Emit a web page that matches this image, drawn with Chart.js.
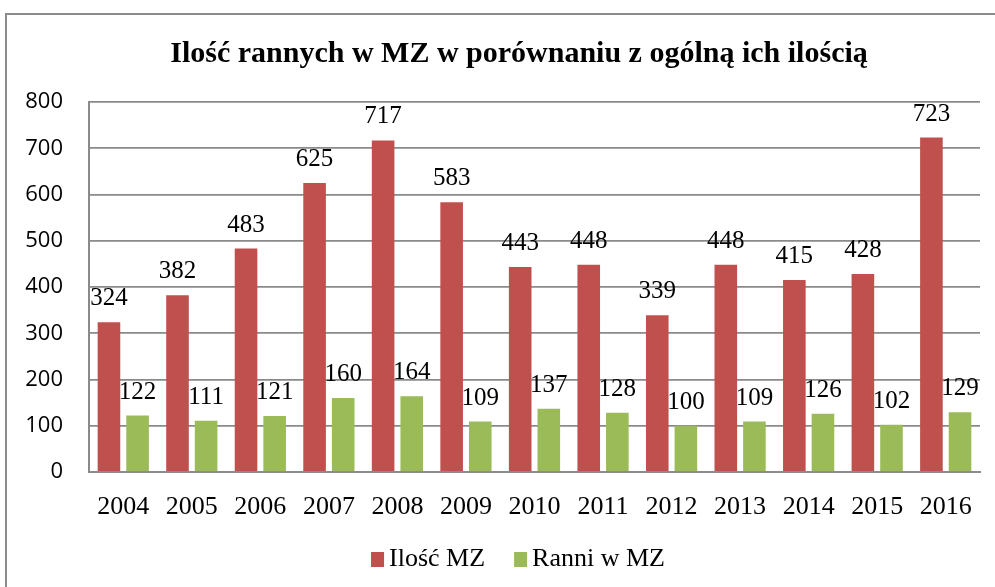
<!DOCTYPE html>
<html>
<head>
<meta charset="utf-8">
<script src="https://cdn.jsdelivr.net/npm/chart.js@4.4.1/dist/chart.umd.min.js"></script>
<style>
  html, body { margin: 0; padding: 0; background: #fff; overflow: hidden; }
  #wrap { position: relative; width: 995px; height: 587px; }
  #frame { position: absolute; left: 5px; top: 13px; width: 1100px; height: 700px;
           border: 2px solid #8c8c8c; pointer-events: none; }
</style>
</head>
<body>
<div id="wrap">
  <canvas id="chart"></canvas>
  <div id="frame"></div>
</div>
<script>
const years = ['2004', '2005', '2006', '2007', '2008', '2009', '2010', '2011', '2012', '2013', '2014', '2015', '2016'];
const iloscMZ = [324, 382, 483, 625, 717, 583, 443, 448, 339, 448, 415, 428, 723];
const ranniMZ = [122, 111, 121, 160, 164, 109, 137, 128, 100, 109, 126, 102, 129];
const yTicks = [0, 100, 200, 300, 400, 500, 600, 700, 800];
const chartTitle = 'Ilość rannych w MZ w porównaniu z ogólną ich ilością';

const serif = '"Liberation Serif", "Times New Roman", serif';

// value labels above every bar
const barLabels = {
  id: 'barLabels',
  afterDatasetsDraw(chart) {
    const ctx = chart.ctx;
    ctx.save();
    ctx.font = '25px ' + serif;
    ctx.fillStyle = '#000';
    ctx.textAlign = 'center';
    ctx.textBaseline = 'alphabetic';
    chart.data.datasets.forEach((ds, i) => {
      chart.getDatasetMeta(i).data.forEach((bar, j) => {
        ctx.fillText(ds.data[j], bar.x, bar.y - 17);
      });
    });
    ctx.restore();
  }
};

// title + legend drawn by hand, centred on the (wider) Excel chart box
const titleAndLegend = {
  id: 'titleAndLegend',
  afterDraw(chart) {
    const ctx = chart.ctx;
    ctx.save();
    ctx.fillStyle = '#000';
    ctx.textAlign = 'center';
    ctx.textBaseline = 'alphabetic';
    ctx.font = 'bold 30px ' + serif;
    ctx.fillText(chartTitle, 519, 62);

    ctx.textAlign = 'left';
    ctx.textBaseline = 'middle';
    ctx.font = '26px ' + serif;
    const items = chart.data.datasets.map(ds => ({ text: ds.label, color: ds.backgroundColor }));
    const box = 13, gap = 5, spacing = 29;
    let total = 0;
    items.forEach((it, i) => {
      it.w = ctx.measureText(it.text).width;
      total += box + gap + it.w + (i < items.length - 1 ? spacing : 0);
    });
    let x = 518 - total / 2;
    const cy = 559;
    items.forEach(it => {
      ctx.fillStyle = it.color;
      ctx.fillRect(x, cy - 7, box, 15);
      x += box + gap;
      ctx.fillStyle = '#000';
      ctx.fillText(it.text, x, cy);
      x += it.w + spacing;
    });
    ctx.restore();
  }
};

new Chart(document.getElementById('chart'), {
  type: 'bar',
  data: {
    labels: years,
    datasets: [
      {
        label: 'Ilość MZ',
        data: iloscMZ,
        backgroundColor: '#C0504D',
        barPercentage: 0.79,
        categoryPercentage: 0.835
      },
      {
        label: 'Ranni w MZ',
        data: ranniMZ,
        backgroundColor: '#9BBB59',
        barPercentage: 0.79,
        categoryPercentage: 0.835
      }
    ]
  },
  options: {
    responsive: true,
    maintainAspectRatio: false,
    animation: false,
    layout: { padding: { left: 15, right: 15, top: 102, bottom: 65 } },
    plugins: {
      legend: { display: false },
      tooltip: { enabled: false },
      title: { display: false }
    },
    scales: {
      x: {
        grid: { display: false, drawTicks: false },
        border: { display: true, color: '#8c8c8c', width: 2 },
        ticks: { color: '#000', font: { family: serif, size: 26 }, padding: 20, maxRotation: 0 },
        afterFit(scale) { scale.height = 50; }
      },
      y: {
        min: 0,
        max: 800,
        afterBuildTicks(scale) { scale.ticks = yTicks.map(v => ({ value: v })); },
        grid: { color: '#8a8a8a', lineWidth: 1.8, drawTicks: false },
        border: { display: true, color: '#8a8a8a', width: 2 },
        ticks: { color: '#000', font: { family: '"Open Sans", sans-serif', size: 22 }, padding: 26 },
        afterFit(scale) { scale.width = 74; }
      }
    }
  },
  plugins: [barLabels, titleAndLegend]
});
</script>
</body>
</html>
